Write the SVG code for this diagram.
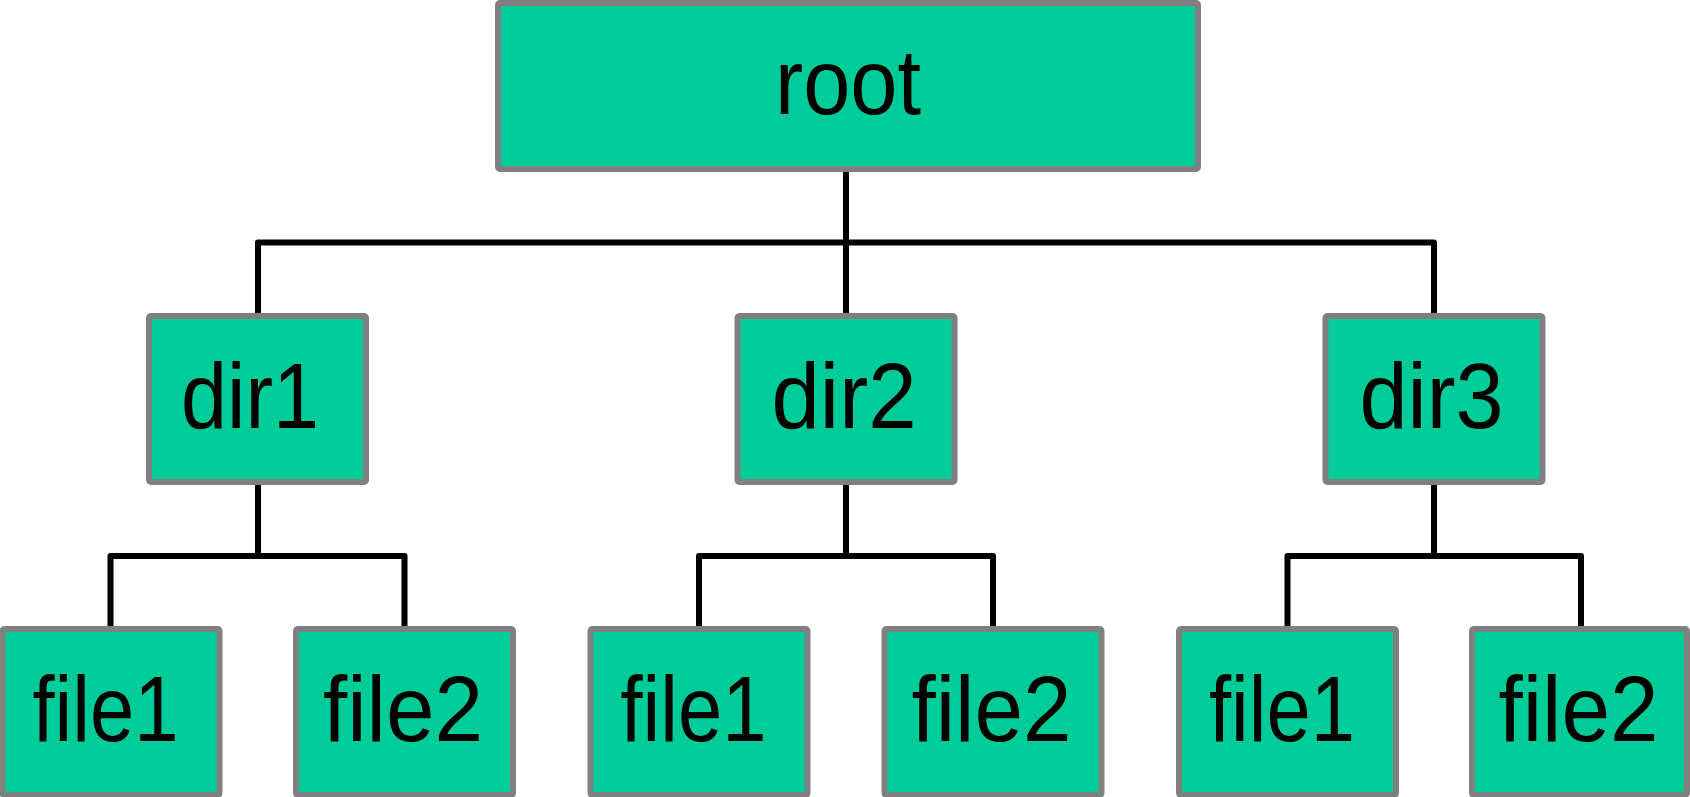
<svg xmlns="http://www.w3.org/2000/svg" width="1690" height="797" viewBox="0 0 1690 797">
  <style>
    .box { fill: #00CC99; stroke: #808080; stroke-width: 6; }
    .lbl { font-family: "Liberation Sans", Arial, sans-serif; font-size: 92px; fill: #000000; text-anchor: middle; }
    .wire { fill: none; stroke: #000000; stroke-width: 6; stroke-linejoin: round; }
  </style>
  <rect width="1690" height="797" fill="#ffffff"/>

  <!-- tree connectors -->
  <g id="connectors" class="wire">
    <path d="M846,169 V316"/>
    <path d="M258,316 V242.5 H1434 V316"/>
    <path d="M258,482 V556"/>
    <path d="M110.5,629 V556 H404.5 V629"/>
    <path d="M846,482 V556"/>
    <path d="M699,629 V556 H993 V629"/>
    <path d="M1434,482 V556"/>
    <path d="M1287.5,629 V556 H1581 V629"/>
  </g>

  <g id="root">
    <rect class="box" x="498" y="3" width="700" height="166" rx="2"/>
    <text class="lbl" x="848" y="114" textLength="146" lengthAdjust="spacingAndGlyphs">root</text>
  </g>

  <g id="dir1">
    <rect class="box" x="149" y="316" width="217" height="166" rx="2"/>
    <text class="lbl" x="250" y="428" textLength="138" lengthAdjust="spacingAndGlyphs">dir1</text>
  </g>
  <g id="dir2">
    <rect class="box" x="737.5" y="316" width="217" height="166" rx="2"/>
    <text class="lbl" x="844" y="428" textLength="145" lengthAdjust="spacingAndGlyphs">dir2</text>
  </g>
  <g id="dir3">
    <rect class="box" x="1325.5" y="316" width="217" height="166" rx="2"/>
    <text class="lbl" x="1431.5" y="428" textLength="144" lengthAdjust="spacingAndGlyphs">dir3</text>
  </g>

  <g id="dir1-file1">
    <rect class="box" x="2.5" y="629" width="217" height="166" rx="2"/>
    <text class="lbl" x="105.5" y="741" textLength="146" lengthAdjust="spacingAndGlyphs">file1</text>
  </g>
  <g id="dir1-file2">
    <rect class="box" x="296" y="629" width="217" height="166" rx="2"/>
    <text class="lbl" x="403" y="741" textLength="160" lengthAdjust="spacingAndGlyphs">file2</text>
  </g>
  <g id="dir2-file1">
    <rect class="box" x="590.5" y="629" width="217" height="166" rx="2"/>
    <text class="lbl" x="693.5" y="741" textLength="146" lengthAdjust="spacingAndGlyphs">file1</text>
  </g>
  <g id="dir2-file2">
    <rect class="box" x="884.5" y="629" width="217" height="166" rx="2"/>
    <text class="lbl" x="991.5" y="741" textLength="160" lengthAdjust="spacingAndGlyphs">file2</text>
  </g>
  <g id="dir3-file1">
    <rect class="box" x="1179" y="629" width="217" height="166" rx="2"/>
    <text class="lbl" x="1282" y="741" textLength="146" lengthAdjust="spacingAndGlyphs">file1</text>
  </g>
  <g id="dir3-file2">
    <rect class="box" x="1472" y="629" width="215" height="166" rx="2"/>
    <text class="lbl" x="1578.5" y="741" textLength="160" lengthAdjust="spacingAndGlyphs">file2</text>
  </g>
</svg>
